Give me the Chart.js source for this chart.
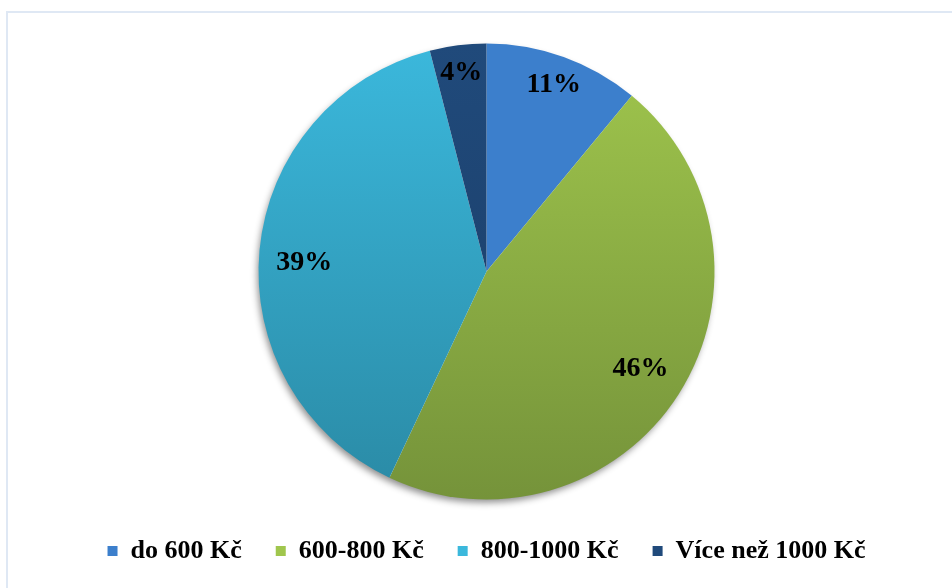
<!DOCTYPE html>
<html>
<head>
<meta charset="utf-8">
<script src="https://cdn.jsdelivr.net/npm/chart.js@4/dist/chart.umd.min.js"></script>
<style>
  html, body { margin: 0; padding: 0; background: #fff; overflow: hidden; }
  #wrap { position: relative; width: 952px; height: 588px; }
  #frame { position: absolute; left: 6px; top: 11px; width: 980px; height: 620px; border: 2px solid #dfe8f4; box-sizing: border-box; }
  #chart { position: absolute; left: 0; top: 0; }
</style>
</head>
<body>
<div id="wrap">
  <div id="frame"></div>
  <canvas id="chart" width="952" height="588"></canvas>
</div>
<script>
  var labels = ["do 600 Kč", "600-800 Kč", "800-1000 Kč", "Více než 1000 Kč"];
  var values = [11, 46, 39, 4];
  var topColors = ["#3c7fcc", "#a0c64d", "#3bb8dc", "#204a7b"];
  var bottomColors = ["#2f63a8", "#75933a", "#2a8aa5", "#1a3c66"];

  var fontFamily = "'Liberation Serif', 'Times New Roman', serif";

  // vertical gradient over the whole pie, like the excel fill
  function sliceFill(ctx) {
    var i = ctx.dataIndex;
    var chart = ctx.chart;
    var arc = chart.getDatasetMeta(0).data[0];
    if (!arc || !arc.outerRadius) return topColors[i];
    var g = chart.ctx.createLinearGradient(0, arc.y - arc.outerRadius, 0, arc.y + arc.outerRadius);
    g.addColorStop(0, topColors[i]);
    g.addColorStop(1, bottomColors[i]);
    return g;
  }

  var pieShadow = {
    id: "pieShadow",
    beforeDatasetsDraw(chart) {
      var arc = chart.getDatasetMeta(0).data[0];
      if (!arc) return;
      var c = chart.ctx;
      c.save();
      c.shadowColor = "rgba(0,0,0,0.45)";
      c.shadowBlur = 7;
      c.shadowOffsetX = -2;
      c.shadowOffsetY = 4;
      c.fillStyle = "#ffffff";
      c.beginPath();
      c.arc(arc.x, arc.y, arc.outerRadius - 1, 0, Math.PI * 2);
      c.fill();
      c.restore();
    }
  };

  var sliceLabels = {
    id: "sliceLabels",
    afterDatasetsDraw(chart, args, opts) {
      var c = chart.ctx;
      var meta = chart.getDatasetMeta(0);
      c.save();
      c.font = "bold " + opts.size + "px " + fontFamily;
      c.fillStyle = "#000";
      c.textAlign = "center";
      c.textBaseline = "middle";
      meta.data.forEach(function(arc, i) {
        var mid = (arc.startAngle + arc.endAngle) / 2 + opts.shift[i] * Math.PI / 180;
        var r = arc.outerRadius * opts.radii[i];
        c.fillText(values[i] + "%", arc.x + Math.cos(mid) * r, arc.y + Math.sin(mid) * r);
      });
      c.restore();
    }
  };

  new Chart(document.getElementById("chart"), {
    type: "pie",
    data: {
      labels: labels,
      datasets: [{
        data: values,
        backgroundColor: sliceFill,
        borderWidth: 0
      }]
    },
    options: {
      responsive: false,
      animation: false,
      radius: 228,
      layout: { padding: { top: 39, bottom: 14, left: 21, right: 0 } },
      plugins: {
        tooltip: { enabled: false },
        legend: {
          position: "bottom",
          labels: {
            boxWidth: 10,
            boxHeight: 10,
            padding: 34,
            color: "#000",
            font: { family: fontFamily, size: 26, weight: "bold" },
            generateLabels: function(chart) {
              return labels.map(function(l, i) {
                return { text: l, fillStyle: topColors[i], strokeStyle: topColors[i], lineWidth: 0, index: i };
              });
            }
          }
        },
        sliceLabels: { size: 28, radii: [0.87, 0.8, 0.8, 0.88], shift: [0, 0, -2.6, 0] }
      }
    },
    plugins: [pieShadow, sliceLabels]
  });
</script>
</body>
</html>
